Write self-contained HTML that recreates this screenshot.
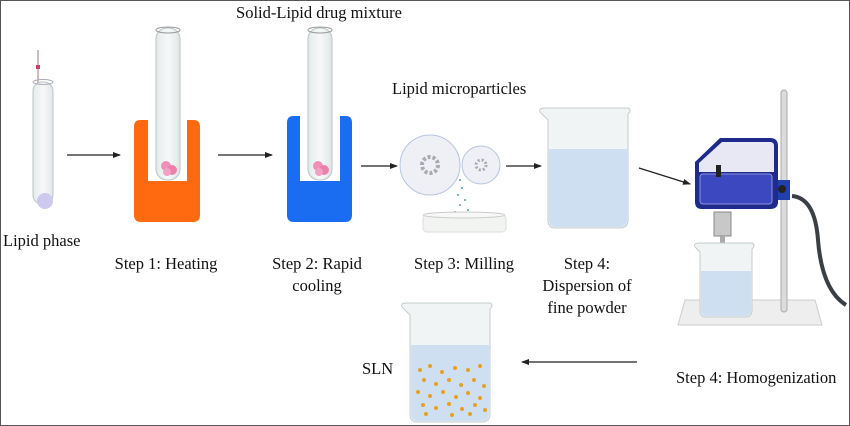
<!DOCTYPE html><html><head><style>
html,body{margin:0;padding:0;background:#fff}
svg{display:block}
text{font-family:"Liberation Serif",serif;font-size:16.5px;fill:#111}
</style></head><body>
<svg width="850" height="426" viewBox="0 0 850 426" xmlns="http://www.w3.org/2000/svg">
<defs>
<marker id="ah" markerWidth="8" markerHeight="8" refX="7" refY="4" orient="auto" markerUnits="userSpaceOnUse"><path d="M0,1 L8,4 L0,7 Z" fill="#222"/></marker>
<linearGradient id="glass" x1="0" x2="1"><stop offset="0" stop-color="#e4eaea"/><stop offset=".5" stop-color="#f7f9f9"/><stop offset="1" stop-color="#dfe6e6"/></linearGradient>
</defs>
<rect x="0.5" y="0.5" width="849" height="425" fill="#fff" stroke="#555"/>
<line x1="38" y1="50" x2="38" y2="200" stroke="#c8a0a8" stroke-width="1.5"/>
<rect x="36" y="65" width="4" height="4" fill="#d04060"/>
<rect x="33" y="82" width="20" height="122" rx="9" fill="url(#glass)" stroke="#b8c4c4"/>
<ellipse cx="43" cy="82" rx="10" ry="2.5" fill="none" stroke="#aab"/>
<circle cx="45" cy="201" r="8" fill="#ccc8ee"/>
<line x1="67" y1="155" x2="120" y2="155" stroke="#222" stroke-width="1.3" marker-end="url(#ah)"/>
<line x1="218" y1="155" x2="272" y2="155" stroke="#222" stroke-width="1.3" marker-end="url(#ah)"/>
<line x1="361" y1="166" x2="397" y2="166" stroke="#222" stroke-width="1.3" marker-end="url(#ah)"/>
<line x1="506" y1="166" x2="541" y2="166" stroke="#222" stroke-width="1.3" marker-end="url(#ah)"/>
<line x1="639" y1="168" x2="690" y2="184" stroke="#222" stroke-width="1.3" marker-end="url(#ah)"/>
<line x1="637" y1="362" x2="522" y2="362" stroke="#222" stroke-width="1.3" marker-end="url(#ah)"/>
<path d="M140,120 H148 V181 H187 V120 H194 Q200,120 200,127 V215 Q200,222 193,222 H141 Q134,222 134,215 V127 Q134,120 140,120 Z" fill="#ff6a10"/>
<rect x="156" y="28" width="24" height="152" rx="11" fill="url(#glass)" stroke="#b8c4c4"/>
<ellipse cx="168" cy="30" rx="12" ry="3" fill="none" stroke="#999"/>
<circle cx="166" cy="166" r="5" fill="#f090b8"/><circle cx="172" cy="170" r="5" fill="#ec80ac"/><circle cx="167" cy="172" r="4" fill="#f4a0c4"/>
<path d="M293,116 H300 V181 H340 V116 H346 Q352,116 352,123 V215 Q352,222 345,222 H294 Q287,222 287,215 V123 Q287,116 293,116 Z" fill="#1a6cf0"/>
<rect x="308" y="28" width="24" height="152" rx="11" fill="url(#glass)" stroke="#b8c4c4"/>
<ellipse cx="320" cy="30" rx="12" ry="3" fill="none" stroke="#999"/>
<circle cx="318" cy="166" r="5" fill="#f090b8"/><circle cx="324" cy="170" r="5" fill="#ec80ac"/><circle cx="319" cy="172" r="4" fill="#f4a0c4"/>
<circle cx="430" cy="165" r="30" fill="#eef0f6" stroke="#b8c4e0"/>
<circle cx="481" cy="165" r="19" fill="#eef0f6" stroke="#b8c4e0"/>
<circle cx="430" cy="165" r="8" fill="none" stroke="#aaa" stroke-width="4" stroke-dasharray="3 2"/>
<circle cx="481" cy="165" r="5" fill="none" stroke="#aaa" stroke-width="3" stroke-dasharray="2 2"/>
<g fill="#4aa"><circle cx="460" cy="180" r="1"/><circle cx="462" cy="188" r="1"/><circle cx="458" cy="195" r="1"/><circle cx="465" cy="200" r="1"/><circle cx="460" cy="205" r="1"/><circle cx="468" cy="210" r="1"/><circle cx="455" cy="212" r="1"/><circle cx="463" cy="216" r="1"/></g>
<rect x="423" y="215" width="83" height="17" rx="4" fill="#f2f4f2" stroke="#ddd"/>
<ellipse cx="464" cy="215" rx="41" ry="3" fill="#f8f8f8" stroke="#ccc"/>
<path d="M540,112 Q538,108 545,108 H628 Q632,110 628,114 V220 Q628,228 620,228 H555 Q548,228 548,220 V120 Z" fill="#f1f4f4" stroke="#c4cccc"/>
<path d="M549,149 H627 V220 Q627,227 620,227 H556 Q549,227 549,220 Z" fill="#cfdff2"/>
<path d="M685,300 H815 L822,325 H678 Z" fill="#eeeeee" stroke="#ccc"/>
<rect x="781" y="90" width="6" height="222" rx="3" fill="#dcdcdc" stroke="#aaa"/>
<path d="M792,196 Q815,198 818,240 Q822,290 846,305" fill="none" stroke="#3a3f45" stroke-width="4"/>
<rect x="775" y="180" width="15" height="20" fill="#2040b0"/>
<circle cx="782" cy="189" r="4" fill="#222"/>
<path d="M720,138 H770 Q778,138 778,146 V202 Q778,209 770,209 H702 Q695,209 695,202 V162 Z" fill="#1e2a8c"/>
<path d="M722,142 H770 Q774,142 774,146 V172 H699 V163 Z" fill="#e8e8f4"/>
<rect x="700" y="174" width="72" height="30" rx="3" fill="#3b48c0" stroke="#8c94e0"/>
<rect x="716" y="165" width="5" height="12" fill="#222"/>
<rect x="714" y="212" width="17" height="24" fill="#c8c8c8" stroke="#888"/>
<rect x="720" y="236" width="5" height="12" fill="#aaa"/>
<path d="M695,247 Q693,243 700,243 H752 Q756,245 752,249 V310 Q752,317 745,317 H706 Q700,317 700,310 V252 Z" fill="#f1f4f4" stroke="#c4cccc"/>
<path d="M701,271 H751 V310 Q751,316 745,316 H707 Q701,316 701,310 Z" fill="#cfdff2"/>
<path d="M402,307 Q400,303 407,303 H490 Q494,305 490,309 V414 Q490,422 482,422 H417 Q410,422 410,414 V315 Z" fill="#f1f4f4" stroke="#c4cccc"/>
<path d="M411,345 H489 V414 Q489,421 482,421 H418 Q411,421 411,414 Z" fill="#cfdff2"/>
<g fill="#e8a020">
<circle cx="420" cy="370" r="2"/><circle cx="430" cy="366" r="2"/><circle cx="442" cy="372" r="2"/><circle cx="455" cy="368" r="2"/><circle cx="468" cy="370" r="2"/><circle cx="480" cy="366" r="2"/>
<circle cx="424" cy="380" r="2"/><circle cx="436" cy="384" r="2"/><circle cx="449" cy="380" r="2"/><circle cx="461" cy="385" r="2"/><circle cx="474" cy="380" r="2"/><circle cx="484" cy="386" r="2"/>
<circle cx="418" cy="392" r="2"/><circle cx="430" cy="396" r="2"/><circle cx="443" cy="392" r="2"/><circle cx="456" cy="397" r="2"/><circle cx="468" cy="393" r="2"/><circle cx="480" cy="398" r="2"/>
<circle cx="423" cy="405" r="2"/><circle cx="436" cy="408" r="2"/><circle cx="449" cy="404" r="2"/><circle cx="462" cy="409" r="2"/><circle cx="475" cy="405" r="2"/><circle cx="485" cy="410" r="2"/>
<circle cx="426" cy="414" r="2"/><circle cx="452" cy="415" r="2"/><circle cx="470" cy="414" r="2"/>
</g>
<text x="319" y="18" text-anchor="middle">Solid-Lipid drug mixture</text>
<text x="392" y="94">Lipid microparticles</text>
<text x="3" y="246">Lipid phase</text>
<text x="166" y="269" text-anchor="middle">Step 1: Heating</text>
<text x="317" y="269" text-anchor="middle">Step 2: Rapid</text>
<text x="317" y="291" text-anchor="middle">cooling</text>
<text x="464" y="269" text-anchor="middle">Step 3: Milling</text>
<text x="587" y="269" text-anchor="middle">Step 4:</text>
<text x="587" y="291" text-anchor="middle">Dispersion of</text>
<text x="587" y="313" text-anchor="middle">fine powder</text>
<text x="362" y="374">SLN</text>
<text x="676" y="383">Step 4: Homogenization</text>
</svg>
</body></html>
